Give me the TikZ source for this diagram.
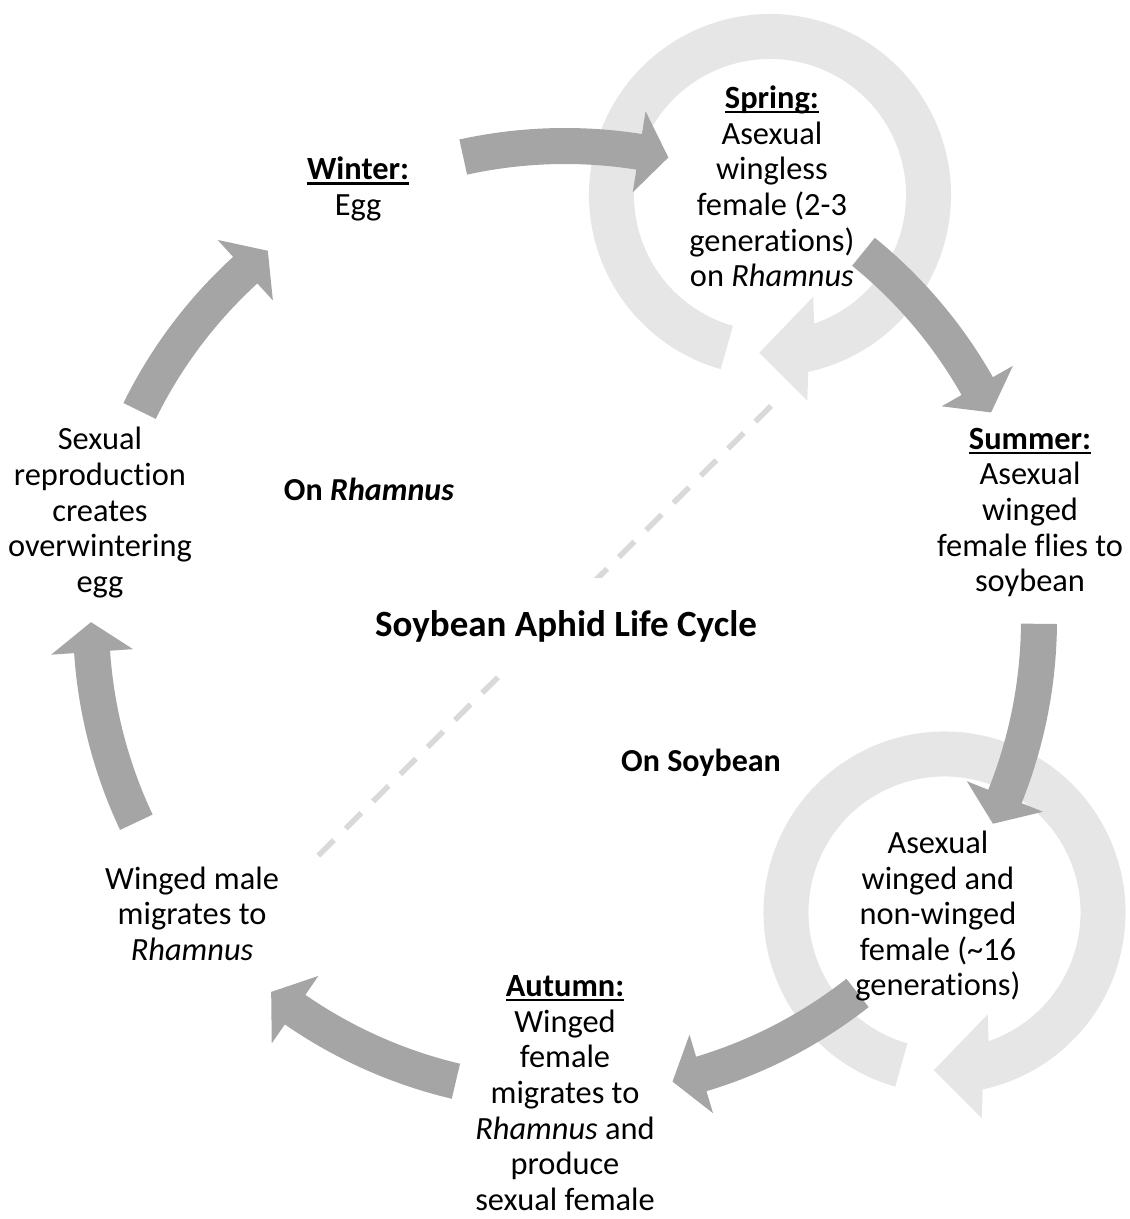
\documentclass[tikz,border=0pt]{standalone}
\usepackage{fontspec}
\setmainfont{Carlito}[Ligatures=NoCommon]
\usepackage{xcolor}
\usepackage{tikz}

\definecolor{arrowgray}{HTML}{A5A5A5}
\definecolor{ringgray}{HTML}{E7E6E6}
\definecolor{dashgray}{HTML}{D9D9D9}

\newsavebox{\headbox}
\newcommand{\seasonhead}[1]{\sbox{\headbox}{\textbf{#1}}\rlap{\rule[-4.7pt]{\wd\headbox}{2.1pt}}\usebox{\headbox}}
\newcommand{\topstrut}{\rule{0pt}{30pt}}
\newcommand{\botstrut}{\rule[-8pt]{0pt}{8pt}}

\begin{document}
\begin{tikzpicture}[
x=1pt, y=1pt,
lifestage/.style={align=center, inner sep=0pt, font=\fontsize{32.4}{35.6}\selectfont, execute at begin node=\topstrut, execute at end node=\botstrut},
host/.style={anchor=base, inner sep=0pt, font=\fontsize{32}{35.6}\selectfont\bfseries},
cycletitle/.style={anchor=base, fill=white, inner xsep=2pt, inner ysep=0pt, text height=30pt, text depth=10pt, minimum height=98pt, font=\fontsize{37}{44}\selectfont\bfseries},
divider/.style={draw=dashgray, line width=5.5pt, dash pattern=on 22pt off 16.5pt},
ring/.style={fill=ringgray},
bigarrow/.style={fill=arrowgray}
]
\useasboundingbox (0,0) rectangle (1130,1219);

\coordinate (hub) at (565,599);
\coordinate (springring) at (770,1024);
\coordinate (soyring) at (944.5,306.5);

% --- Repeat rings ---
\foreach \c in {springring, soyring} {
  \begin{scope}[shift={(\c)}]
    \fill[ring] (254.2:181) arc[start angle=254.2, end angle=-77.8, radius=181]
      -- (37.3,-205.7) -- (-10.7,-157.7) -- (43.3,-101.7) -- (-71.1:136)
      arc[start angle=-71.1, end angle=254.2, radius=136] -- cycle;
  \end{scope}
}

% --- Cycle arrows (winter->spring, spring->summer, ..., sexual->winter) ---
\begin{scope}[shift={(hub)}]
\foreach \m in {90, 38.57, -12.86, -64.29, -115.71, -167.14, 141.43} {
  \pgfmathsetmacro\ta{\m+12.4}
  \pgfmathsetmacro\ba{\m-9}
  \pgfmathsetmacro\pa{\m-12.6}
  \fill[bigarrow] (\ta:492) arc[start angle=\ta, end angle=\ba, radius=492]
    -- (\ba:515) -- (\pa:474) -- (\ba:433) -- (\ba:456)
    arc[start angle=\ba, end angle=\ta, radius=456] -- cycle;
}
\end{scope}

% --- Host divider ---
\coordinate (divtop) at (771,813);
\coordinate (divbot) at (317,362);
\draw[divider] (divtop) -- (divbot);

\node[cycletitle] (title) at (566,582) {Soybean Aphid Life Cycle};

% --- Life stages ---
\begin{scope}[shift={(hub)}]
\node[lifestage] (autumn) at (-90:477) {\seasonhead{Autumn:}\\Winged\\female\\migrates to\\\textit{Rhamnus} and\\produce\\sexual female};
\node[lifestage] (soyphase) at (-38.57:477) {Asexual\\winged and\\non-winged\\female (\textasciitilde16\\generations)};
\node[lifestage] (summer) at (12.86:477) {\seasonhead{Summer:}\\Asexual\\winged\\female flies to\\soybean};
\node[lifestage] (spring) at (64.29:477) {\seasonhead{Spring:}\\Asexual\\wingless\\female (2-3\\generations)\\on \textit{Rhamnus}};
\node[lifestage] (winter) at (115.71:477) {\seasonhead{Winter:}\\Egg};
\node[lifestage] (sexual) at (167.14:477) {Sexual\\reproduction\\creates\\overwintering\\egg};
\node[lifestage] (male) at (218.57:477) {Winged male\\migrates to\\\textit{Rhamnus}};
\end{scope}

% --- Host labels ---
\node[host] (onrhamnus) at (369,718) {On \textit{Rhamnus}};
\node[host] (onsoybean) at (701,447) {On Soybean};

\end{tikzpicture}
\end{document}
